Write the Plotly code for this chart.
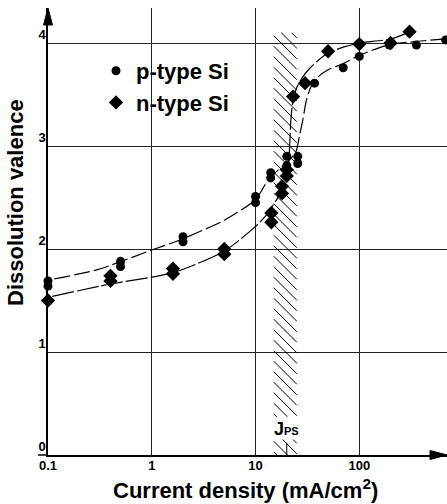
import numpy as np
import plotly.graph_objects as go

# ---- data ----
p_x = [0.1, 0.1, 0.5, 0.5, 2, 2, 10, 10, 14, 14, 20, 20, 25.5, 25.5, 37, 70, 100, 195, 355, 680]
p_v = [1.69, 1.64, 1.88, 1.83, 2.12, 2.07, 2.51, 2.45, 2.74, 2.69, 2.90, 2.81, 2.90, 2.83, 3.61, 3.76, 3.87, 3.98, 3.98, 4.03]

n_x = [0.1, 0.4, 0.4, 1.6, 1.6, 5, 5, 14.2, 14.2, 18, 18, 20, 20, 23, 30, 50, 100, 200, 305]
n_v = [1.50, 1.74, 1.69, 1.81, 1.76, 2.00, 1.95, 2.35, 2.26, 2.61, 2.54, 2.77, 2.71, 3.48, 3.61, 3.92, 3.99, 4.00, 4.11]

# fitted guide curves
pc_x = [0.115, 0.3, 1, 2, 5, 10, 13.4, 18, 22, 24.6, 26.5, 28.5, 31, 34.4, 40, 50, 70, 100, 190, 680]
pc_v = [1.71, 1.80, 1.99, 2.10, 2.28, 2.48, 2.68, 2.80, 2.88, 2.95, 3.10, 3.25, 3.45, 3.58, 3.67, 3.74, 3.80, 3.88, 3.98, 4.04]

nc_x = [0.11, 0.4, 1.6, 5, 10, 12.7, 16, 18, 20.4, 21.2, 21.9, 23, 25, 28, 33, 40, 49.6, 70, 101, 203, 308]
nc_v = [1.54, 1.66, 1.77, 1.98, 2.22, 2.33, 2.48, 2.58, 2.72, 2.95, 3.25, 3.45, 3.57, 3.66, 3.75, 3.83, 3.90, 3.96, 4.00, 4.04, 4.11]

x_ticks = [0.1, 1, 10, 100]
x_ticklabels = ["0.1", "1", "10", "100"]
y_ticks = [0, 1, 2, 3, 4]

jps_band = [15, 25]      # hatched region (mA/cm2)
jps = 20                 # J_PS
band_top = 4.1
label_gap = [0.15, 0.37]  # gap in hatching for label

FONT = "Liberation Sans"
W, H = 447, 504
ML, MR, MT, MB = 48, 0, 8, 49
PW, PH = W - ML - MR, H - MT - MB
XR = [-1, 2.845]
YR = [0, 4.34]

fig = go.Figure()

# hatch lines (45 deg in pixel space)
kx = PW / (XR[1] - XR[0])  # px per decade
ky = PH / (YR[1] - YR[0])  # px per unit
slope = kx / ky
L1, L2 = np.log10(jps_band[0]), np.log10(jps_band[1])
hx, hy = [], []
spacing = 10.5 / ky
for lo, hi in [(0.0, label_gap[0]), (label_gap[1], band_top)]:
    c = lo + spacing * 0.3
    while c < hi + slope * (L2 - L1):
        a_L, a_v = L1, c
        b_L, b_v = L2, c - slope * (L2 - L1)
        if a_v > hi:
            a_L = L1 + (c - hi) / slope
            a_v = hi
        if b_v < lo:
            b_L = L1 + (c - lo) / slope
            b_v = lo
        if a_L < b_L:
            hx += [10 ** a_L, 10 ** b_L, None]
            hy += [a_v, b_v, None]
        c += spacing
fig.add_trace(go.Scatter(x=hx, y=hy, mode="lines", line=dict(color="black", width=1),
                         showlegend=False, hoverinfo="skip"))
# J_PS marker
fig.add_trace(go.Scatter(x=[jps, jps], y=[0, 0.12], mode="lines", line=dict(color="black", width=1),
                         showlegend=False, hoverinfo="skip"))

# curves
fig.add_trace(go.Scatter(x=pc_x, y=pc_v, mode="lines", line=dict(color="black", width=1.2, dash="16px,4px",
                         shape="spline", smoothing=0.7), showlegend=False, hoverinfo="skip"))
fig.add_trace(go.Scatter(x=nc_x, y=nc_v, mode="lines", line=dict(color="black", width=1.2, dash="22px,3px",
                         shape="spline", smoothing=0.7), showlegend=False, hoverinfo="skip"))

# points
fig.add_trace(go.Scatter(x=p_x, y=p_v, mode="markers", name="p-type Si", cliponaxis=False,
                         marker=dict(symbol="circle", size=9, color="black")))
fig.add_trace(go.Scatter(x=n_x, y=n_v, mode="markers", name="n-type Si", cliponaxis=False,
                         marker=dict(symbol="diamond", size=11, color="black")))

# arrowheads + axis extension
ax_w, ax_l = 4.5, 17
fig.add_shape(type="path", xref="paper", yref="paper",
              path=f"M 0,1 L {-ax_w/PW},{1-ax_l/PH} L {ax_w/PW},{1-ax_l/PH} Z",
              fillcolor="black", line=dict(color="black", width=1))
fig.add_shape(type="path", xref="paper", yref="paper",
              path=f"M 1,0 L {1-ax_l/PW},{ax_w/PH} L {1-ax_l/PW},{-ax_w/PH} Z",
              fillcolor="black", line=dict(color="black", width=1))
fig.add_shape(type="line", xref="paper", yref="paper", x0=-10/PW, x1=0, y0=0, y1=0,
              line=dict(color="black", width=1.5))

# labels
fig.add_annotation(x=np.log10(jps), y=0.25, xref="x", yref="y",
                   text="<b>J<span style='font-size:11px'>PS</span></b>",
                   showarrow=False, font=dict(family=FONT, size=18, color="black"))
fig.add_annotation(x=(245 - ML) / PW, y=-(489 - 455) / PH, xref="paper", yref="paper",
                   xanchor="center", yanchor="middle",
                   text="<b>Current density (mA/cm<sup>2</sup>)</b>", showarrow=False,
                   font=dict(family=FONT, size=22, color="black"))
fig.add_annotation(x=-(ML - 15) / PW, y=(455 - 203) / PH, xref="paper", yref="paper",
                   xanchor="center", yanchor="middle",
                   text="<b>Dissolution valence</b>", textangle=-90, showarrow=False,
                   font=dict(family=FONT, size=22, color="black"))

grid = dict(showgrid=True, gridcolor="#222", gridwidth=1, zeroline=False)
fig.update_xaxes(type="log", range=XR, tickvals=x_ticks, ticktext=x_ticklabels,
                 showline=True, linecolor="black", linewidth=1.5, ticks="",
                 tickfont=dict(family=FONT, size=13, color="black", weight="bold"),
                 ticklabelstandoff=-2, **grid)
fig.update_yaxes(range=YR, tickvals=y_ticks, showline=True, linecolor="black", linewidth=1.5,
                 ticks="", tickfont=dict(family=FONT, size=13, color="black", weight="bold"),
                 ticklabelshift=-9, ticklabelstandoff=-2, **grid)

fig.update_layout(
    width=W, height=H, margin=dict(l=ML, r=MR, t=MT, b=MB),
    paper_bgcolor="white", plot_bgcolor="white",
    showlegend=True,
    legend=dict(x=(96 - ML) / PW, y=(455 - 50) / PH, xanchor="left", yanchor="top",
                bgcolor="rgba(0,0,0,0)", tracegroupgap=0,
                font=dict(family=FONT, size=22, color="black", weight="bold")),
)

fig.write_html("out.html", config={"displayModeBar": False},
               post_script="document.body.style.margin='0';")
